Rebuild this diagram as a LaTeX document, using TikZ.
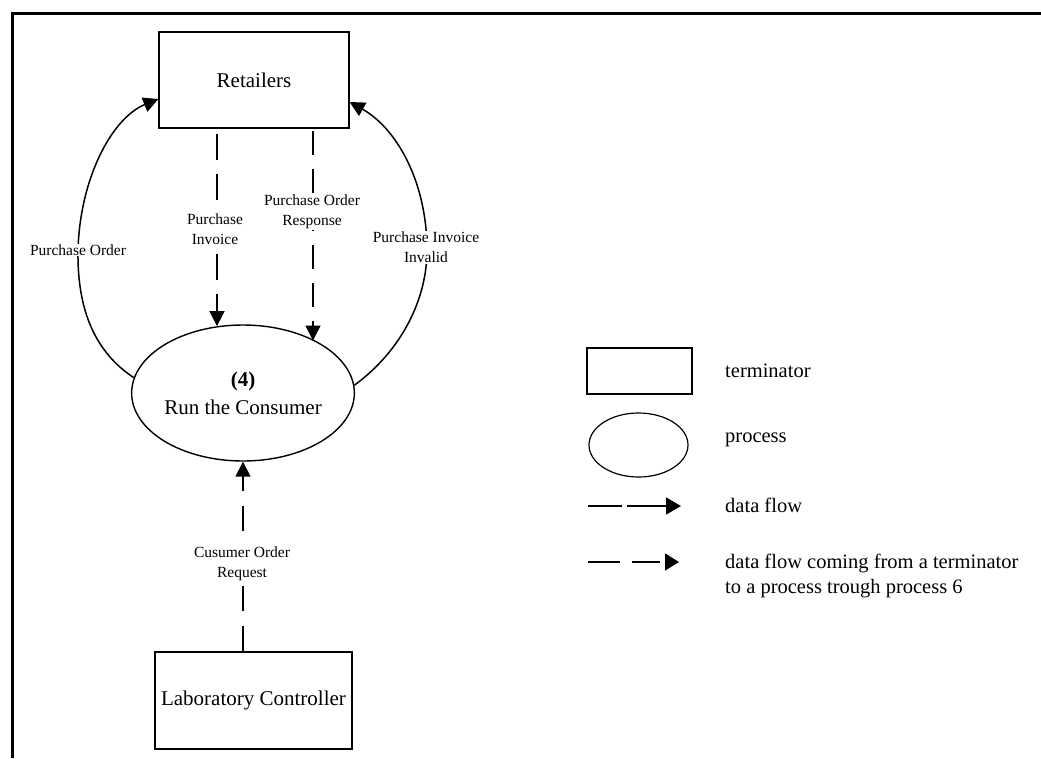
\documentclass[tikz,border=0pt]{standalone}
\usepackage{fontspec}
\setmainfont{Liberation Serif}
\usetikzlibrary{arrows.meta,shapes.geometric}
\begin{document}
\begin{tikzpicture}[x=1pt,y=-1pt,
  box/.style={draw,line width=1.3pt,inner sep=0pt,font=\fontsize{21}{25}\selectfont},
  proc/.style={draw,ellipse,line width=1.4pt,inner sep=0pt,align=center,font=\fontsize{21}{28}\selectfont},
  flow/.style={line width=1.5pt,-{Triangle[length=15pt,width=15pt]}},
  lbl/.style={fill=white,inner sep=1pt,align=center,font=\fontsize{15.5}{20}\selectfont},
  legtext/.style={anchor=base west,inner sep=0pt,font=\fontsize{20.5}{25}\selectfont},
  legflow/.style={line width=1.5pt,-{Triangle[length=15pt,width=17pt]}},
]
\useasboundingbox (0,0) rectangle (1041,758);

% page frame (top and left rules)
\draw[line width=3pt] (12.5,758) -- (12.5,13.5) -- (1041,13.5);

% terminators and the process
\node[box,minimum width=190pt,minimum height=96pt] (ret) at (254,80) {Retailers};
\node[proc,minimum width=220pt,minimum height=136pt] (cons) at (243,393) {\textbf{(4)}\\Run the Consumer};
\node[box,minimum width=197pt,minimum height=97pt] (lc) at (253.5,700.5) {Laboratory Controller};

% solid data flows back to the retailers
\draw[flow] (cons.172) .. controls (95,352) and (77,310) .. (78,250)
  .. controls (80,178) and (112,118) .. ([yshift=-19pt]ret.west);
\node[lbl] (lpo) at (78,250) {Purchase Order};

\draw[flow] (cons.4) .. controls (400,352) and (428,300) .. (427,247)
  .. controls (426,180) and (396,128) .. ([yshift=-22pt]ret.east);
\node[lbl] (lpii) at (426,247.5) {Purchase Invoice\\Invalid};

% dashed data flows into the process
\coordinate (pia) at ([xshift=-37pt,yshift=-5pt]ret.south);
\draw[flow,dash pattern=on 26pt off 14pt] (pia) -- (pia |- cons.111.5);
\node[lbl] (lpi) at (215,229) {Purchase\\Invoice};

\coordinate (pob) at ([xshift=59pt,yshift=-2pt]ret.south);
\draw[flow,dash pattern=on 24pt off 14pt] (pob) -- (pob |- cons.36.9);
\node[lbl] (lpor) at (312,211.5) {Purchase Order\\Response};

\draw[flow,dash pattern=on 25pt off 15pt] (cons.south |- lc.north) -- (cons.south);
\node[lbl] (lcor) at (242,564) {Cusumer Order\\Request};

% legend
\node[draw,line width=1.1pt,minimum width=105pt,minimum height=46pt] (lgterm) at (639.5,371) {};
\node[legtext] (lgtermt) at (725,377) {terminator};

\node[draw,ellipse,line width=1.2pt,minimum width=99pt,minimum height=64pt] (lgproc) at (638.5,445) {};
\node[legtext] (lgproct) at (725,442) {process};

\coordinate (lgfa) at (588,506);
\coordinate (lgfb) at (681,506);
\draw[legflow,dash pattern=on 34pt off 5pt on 60pt off 10pt] (lgfa) -- (lgfb);
\node[legtext] (lgflowt) at (725,512) {data flow};

\coordinate (lgda) at (588,562);
\coordinate (lgdb) at (679,562);
\draw[legflow,-{Triangle[length=14pt,width=17pt]},dash pattern=on 32pt off 12pt on 28pt off 20pt] (lgda) -- (lgdb);
\node[legtext] (lgdt1) at (725,568) {data flow coming from a terminator};
\node[legtext] (lgdt2) at (725,593) {to a process trough process 6};
\end{tikzpicture}
\end{document}
